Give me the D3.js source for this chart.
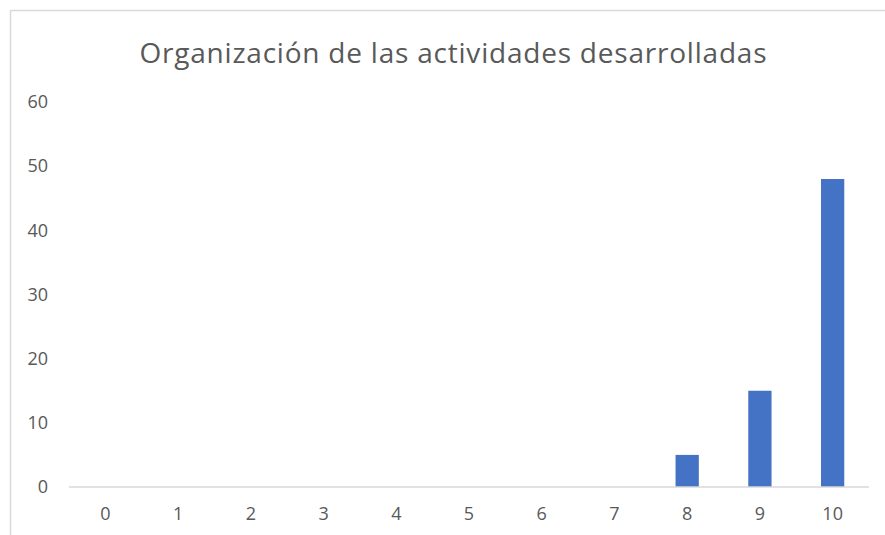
<!DOCTYPE html>
<html>
<head>
<meta charset="utf-8">
<script src="https://cdn.jsdelivr.net/npm/d3@7"></script>
<style>
  body { margin: 0; background: #fff; }
  svg { display: block; font-family: "Open Sans", "Noto Sans", sans-serif; }
</style>
</head>
<body>
<div id="chart"></div>
<script>
// chart values
var title = "Organización de las actividades desarrolladas";
var categories = ["0", "1", "2", "3", "4", "5", "6", "7", "8", "9", "10"];
var values = [0, 0, 0, 0, 0, 0, 0, 0, 5, 15, 48];
var yTicks = [0, 10, 20, 30, 40, 50, 60];

var W = 885, H = 535;
var margin = { left: 69, right: 16, top: 102, bottom: 48 };

var svg = d3.select("#chart").append("svg")
    .attr("width", W).attr("height", H);

// chart area border (only left and top visible in the crop)
svg.append("path")
    .attr("d", "M10.5," + H + "V10.5H" + W)
    .attr("fill", "none")
    .attr("stroke", "#d9d9d9")
    .attr("stroke-width", 1.5);

svg.append("text")
    .attr("x", 453)
    .attr("y", 63)
    .attr("text-anchor", "middle")
    .attr("fill", "#595959")
    .attr("font-size", 28)
    .attr("textLength", 627)
    .attr("lengthAdjust", "spacing")
    .text(title);

var x = d3.scaleBand()
    .domain(categories)
    .range([margin.left, W - margin.right])
    .paddingInner(0.68)
    .paddingOuter(0.34);

var y = d3.scaleLinear()
    .domain([0, 60])
    .range([H - margin.bottom, margin.top]);

// y labels
var yAxis = svg.append("g")
    .attr("transform", "translate(48,0)")
    .call(d3.axisLeft(y).tickValues(yTicks).tickSize(0).tickPadding(0));
yAxis.select(".domain").remove();
yAxis.selectAll("text")
    .attr("fill", "#595959")
    .attr("font-size", 18)
    .attr("font-family", "'Open Sans', 'Noto Sans', sans-serif");

// bars
svg.append("g").selectAll("rect")
    .data(values)
    .enter().append("rect")
    .attr("x", function(d, i) { return x(categories[i]); })
    .attr("y", function(d) { return y(d); })
    .attr("width", x.bandwidth())
    .attr("height", function(d) { return y(0) - y(d); })
    .attr("fill", "#4472c4");

// x axis
var xAxis = svg.append("g")
    .attr("transform", "translate(0," + y(0) + ")")
    .call(d3.axisBottom(x).tickSize(0).tickPadding(20));
xAxis.select(".domain")
    .attr("stroke", "#d9d9d9")
    .attr("stroke-width", 1.5)
    .attr("d", "M" + margin.left + ",0H" + (W - margin.right));
xAxis.selectAll("text")
    .attr("fill", "#595959")
    .attr("font-size", 18)
    .attr("font-family", "'Open Sans', 'Noto Sans', sans-serif");
</script>
</body>
</html>
